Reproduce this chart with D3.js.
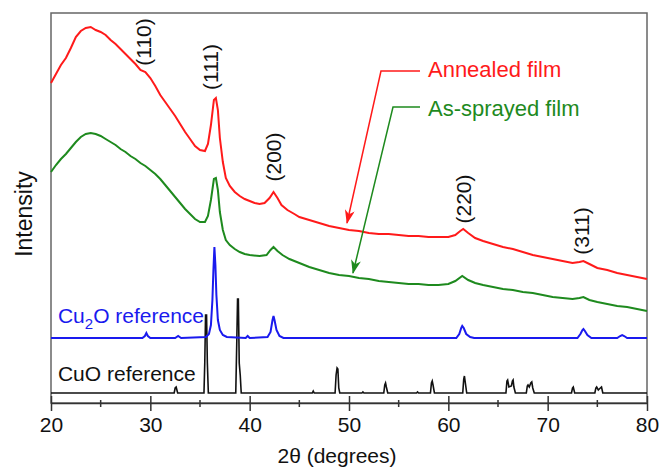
<!DOCTYPE html>
<html>
<head>
<meta charset="utf-8">
<script src="https://cdn.jsdelivr.net/npm/d3@7"></script>
<style>
  body { margin: 0; background: #fff; }
  text { font-family: "Liberation Sans", Arial, sans-serif; }
</style>
</head>
<body>
<div id="chart"></div>
<script>
// XRD patterns, [2theta (deg), intensity (a.u., stacked with offsets)]
var annealed = [
  [20.0,320],[20.5,329],[21.0,338],[21.5,345],[22.0,355],[22.5,366],[23.0,372],[23.5,375],
  [24.0,376],[24.5,373],[25.0,371],[25.5,368],[26.0,363],[26.5,359],[27.0,354],[27.5,349],
  [28.0,344],[28.5,339],[29.0,333],[29.5,331],[30.0,325],[30.5,317],[31.0,308],[31.5,301],
  [32.0,294],[32.5,287],[33.0,279],[33.5,271],[34.0,264],[34.5,257],[35.0,253],[35.5,252],
  [35.8,259],[36.1,278],[36.4,303],[36.6,305],[36.8,293],[37.0,265],[37.3,241],[37.6,225],
  [38.0,217],[38.5,211],[39.0,207],[39.5,204],[40.0,202],[40.5,200],[41.0,199],[41.5,200],
  [42.0,205],[42.4,211],[42.8,205],[43.2,198],[43.8,193],[44.5,189],[45.0,186],[46.0,183],
  [47.0,180],[48.0,177],[49.0,175],[50.0,173],[51.0,172],[52.0,170],[53.0,169],[54.0,169],
  [55.0,168],[56.0,167],[57.0,167],[58.0,166],[59.0,166],[60.0,166],[60.7,168],[61.2,172],
  [61.5,174],[62.0,170],[62.7,165],[63.5,162],[64.5,159],[65.5,156],[66.5,154],[67.5,151],
  [68.5,148],[69.5,146],[70.5,144],[71.5,142],[72.5,140],[73.2,141],[73.6,142],[74.2,139],
  [75.0,135],[76.0,133],[77.0,130],[78.0,128],[79.0,126],[80.0,124]
];
var asSprayed = [
  [20.0,231],[20.5,238],[21.0,244],[21.5,249],[22.0,255],[22.5,261],[23.0,266],[23.5,269],
  [24.0,270],[24.5,269],[25.0,267],[25.5,264],[26.0,261],[26.5,258],[27.0,254],[27.5,251],
  [28.0,247],[28.5,244],[29.0,240],[29.5,237],[30.0,233],[30.5,229],[31.0,224],[31.5,218],
  [32.0,212],[32.5,206],[33.0,200],[33.5,194],[34.0,189],[34.5,184],[35.0,181],[35.5,181],
  [35.8,187],[36.1,203],[36.4,224],[36.6,225],[36.8,213],[37.0,191],[37.3,173],[37.6,163],
  [38.0,158],[38.5,154],[39.0,151],[39.5,149],[40.0,148],[41.0,147],[41.7,148],[42.1,153],
  [42.4,156],[42.8,152],[43.3,148],[44.0,144],[45.0,140],[46.0,136],[47.0,133],[48.0,130],
  [49.0,128],[50.0,127],[51.0,125],[52.0,124],[53.0,122],[54.0,121],[55.0,120],[56.0,119],
  [57.0,119],[58.0,118],[59.0,118],[60.0,119],[60.7,122],[61.4,127],[62.0,123],[62.7,120],
  [63.5,118],[64.5,116],[65.5,114],[66.5,113],[67.5,111],[68.5,110],[69.5,108],[70.5,106],
  [71.5,105],[72.5,104],[73.2,105],[73.6,106],[74.2,103],[75.0,101],[76.0,99],[77.0,97],
  [78.0,96],[79.0,94],[80.0,92]
];
var cu2oRef = [
  [20,65],[29.2,65],[29.45,67],[29.6,70],[29.75,67],[30.0,65],[32.5,65],[32.8,67],[33.1,65],
  [35.6,66],[35.9,69],[36.1,78],[36.25,103],[36.35,133],[36.45,156],[36.55,138],[36.65,108],
  [36.8,83],[37.0,73],[37.3,68],[37.7,66],[39.6,65],[39.8,67],[40.0,65],[41.8,66],[42.1,71],
  [42.3,83],[42.4,87],[42.5,83],[42.7,73],[43.0,67],[43.4,65],[60.8,65],[61.1,69],[61.3,75],
  [61.4,77],[61.55,75],[61.8,69],[62.2,66],[62.6,65],[73.0,65],[73.3,69],[73.5,73],[73.6,74],
  [73.75,72],[74.0,68],[74.4,65],[77.0,65],[77.3,67],[77.5,68],[77.7,67],[78.0,65],[80,65]
];
var cuoRef = [
  [20,10],[32.4,10],[32.5,15],[32.6,16],[32.75,10],
  [35.4,10],[35.48,40],[35.56,88],[35.66,88],[35.74,40],[35.84,10],
  [38.6,10],[38.7,60],[38.78,104],[38.86,104],[38.95,40],[39.05,28],[39.15,10],
  [46.3,10],[46.4,12],[46.5,10],
  [48.6,10],[48.7,28],[48.8,35],[48.88,34],[48.97,15],[49.07,10],
  [51.3,10],[51.4,11],[51.5,10],
  [53.5,10],[53.6,18],[53.68,20],[53.76,16],[53.9,10],
  [56.8,10],[56.9,11],[57.0,10],
  [58.2,10],[58.3,20],[58.38,22],[58.46,18],[58.6,10],
  [61.45,10],[61.55,24],[61.62,27],[61.7,21],[61.85,10],
  [65.8,10],[65.9,22],[65.97,23],[66.1,16],[66.35,17],[66.45,22],[66.52,23],[66.6,16],[66.75,10],
  [67.85,10],[67.95,17],[68.02,18],[68.15,16],[68.3,20],[68.4,21],[68.5,15],[68.65,10],
  [72.4,10],[72.5,15],[72.58,16],[72.72,10],
  [74.75,10],[74.85,15],[74.93,16],[75.1,13],[75.3,15],[75.42,16],[75.55,10],
  [80,10]
];

var xTicks = [20, 30, 40, 50, 60, 70, 80];
var xMinorTicks = [25, 35, 45, 55, 65, 75];

// peak indices [label, 2theta, intensity at label centre]
var peakLabels = [
  ["(110)", 30.07, 361], ["(111)", 36.8, 336], ["(200)", 43.15, 246],
  ["(220)", 62.3, 204], ["(311)", 74.2, 172]
];

function init() {
  var w = 670, h = 468;
  var margin = {top: 13, right: 23, bottom: 65, left: 51};

  var xScale = d3.scaleLinear().domain([20, 80]).range([margin.left, w - margin.right]);
  var yScale = d3.scaleLinear().domain([0, 390]).range([h - margin.bottom, margin.top]);

  var svg = d3.select("#chart").append("svg")
    .attr("width", w).attr("height", h);

  var defs = svg.append("defs");
  [["arrRed", "#ff1a1a"], ["arrGreen", "#1e8a1e"]].forEach(function(m) {
    defs.append("marker")
      .attr("id", m[0])
      .attr("viewBox", "0 0 14 10")
      .attr("refX", 13).attr("refY", 5)
      .attr("markerUnits", "userSpaceOnUse")
      .attr("markerWidth", 14).attr("markerHeight", 10)
      .attr("orient", "auto")
      .append("path")
      .attr("d", "M0,0 L14,5 L0,10 L4,5 Z")
      .attr("fill", m[1]);
  });

  var line = d3.line()
    .x(function(d) { return xScale(d[0]); })
    .y(function(d) { return yScale(d[1]); });

  // frame
  svg.append("rect")
    .attr("x", xScale(20)).attr("y", margin.top)
    .attr("width", xScale(80) - xScale(20))
    .attr("height", h - margin.bottom - margin.top)
    .attr("fill", "none").attr("stroke", "#666").attr("stroke-width", 1.5);

  svg.append("path").datum(cuoRef).attr("d", line)
    .attr("fill", "none").attr("stroke", "#111").attr("stroke-width", 1.6);
  svg.append("path").datum(cu2oRef).attr("d", line)
    .attr("fill", "none").attr("stroke", "#1a1aee").attr("stroke-width", 2);
  svg.append("path").datum(asSprayed).attr("d", line)
    .attr("fill", "none").attr("stroke", "#1e8a1e").attr("stroke-width", 2);
  svg.append("path").datum(annealed).attr("d", line)
    .attr("fill", "none").attr("stroke", "#ff1a1a").attr("stroke-width", 2);

  // x axis
  var xAxis = d3.axisBottom(xScale).tickValues(xTicks).tickSize(0).tickPadding(0);
  var gx = svg.append("g")
    .attr("transform", "translate(0," + (h - margin.bottom) + ")")
    .call(xAxis);
  gx.select(".domain").attr("stroke", "#333").attr("stroke-width", 1.5);
  gx.selectAll(".tick line").attr("y1", -7).attr("y2", 8)
    .attr("stroke", "#333").attr("stroke-width", 1.5);
  gx.selectAll(".tick text")
    .attr("y", 29).attr("dy", 0)
    .attr("fill", "#111").style("font-size", "21px")
    .style("font-family", "'Liberation Sans', Arial, sans-serif");
  gx.selectAll(".minor").data(xMinorTicks).enter().append("line")
    .attr("x1", function(d) { return xScale(d); })
    .attr("x2", function(d) { return xScale(d); })
    .attr("y1", -3).attr("y2", 4)
    .attr("stroke", "#333").attr("stroke-width", 1.5);

  svg.append("text")
    .attr("x", (xScale(20) + xScale(80)) / 2 - 12)
    .attr("y", h - 5)
    .attr("text-anchor", "middle")
    .style("font-size", "21px").attr("fill", "#111")
    .text("2\u03b8 (degrees)");

  svg.append("text")
    .attr("transform", "translate(32," + yScale(189) + ") rotate(-90)")
    .attr("text-anchor", "middle")
    .style("font-size", "23px").attr("fill", "#111")
    .text("Intensity");

  // peak labels
  svg.selectAll(".peak").data(peakLabels).enter().append("text")
    .attr("class", "peak")
    .attr("transform", function(d) {
      return "translate(" + xScale(d[1]) + "," + yScale(d[2]) + ") rotate(-90)";
    })
    .attr("text-anchor", "middle")
    .style("font-size", "21px").attr("fill", "#111")
    .text(function(d) { return d[0]; });

  // annotation arrows
  var arrowRed = [[57.15, 332], [53.22, 332], [49.8, 180]];
  var arrowGreen = [[57.15, 296], [54.43, 296], [50.4, 130]];
  svg.append("path").datum(arrowRed).attr("d", line)
    .attr("fill", "none").attr("stroke", "#ff1a1a").attr("stroke-width", 1.5)
    .attr("marker-end", "url(#arrRed)");
  svg.append("path").datum(arrowGreen).attr("d", line)
    .attr("fill", "none").attr("stroke", "#1e8a1e").attr("stroke-width", 1.5)
    .attr("marker-end", "url(#arrGreen)");

  svg.append("text")
    .attr("x", xScale(57.95)).attr("y", yScale(326))
    .style("font-size", "22px").attr("fill", "#ff1a1a")
    .text("Annealed film");
  svg.append("text")
    .attr("x", xScale(57.95)).attr("y", yScale(287))
    .style("font-size", "22px").attr("fill", "#1e8a1e")
    .text("As-sprayed film");

  var cu2oLabel = svg.append("text")
    .attr("x", xScale(20.7)).attr("y", yScale(80))
    .style("font-size", "21px").attr("fill", "#1a1aee");
  cu2oLabel.append("tspan").text("Cu");
  cu2oLabel.append("tspan").attr("dy", 6).style("font-size", "15px").text("2");
  cu2oLabel.append("tspan").attr("dy", -6).text("O reference");

  svg.append("text")
    .attr("x", xScale(20.7)).attr("y", yScale(22))
    .style("font-size", "21px").attr("fill", "#111")
    .text("CuO reference");
}

window.onload = init;
</script>
</body>
</html>
